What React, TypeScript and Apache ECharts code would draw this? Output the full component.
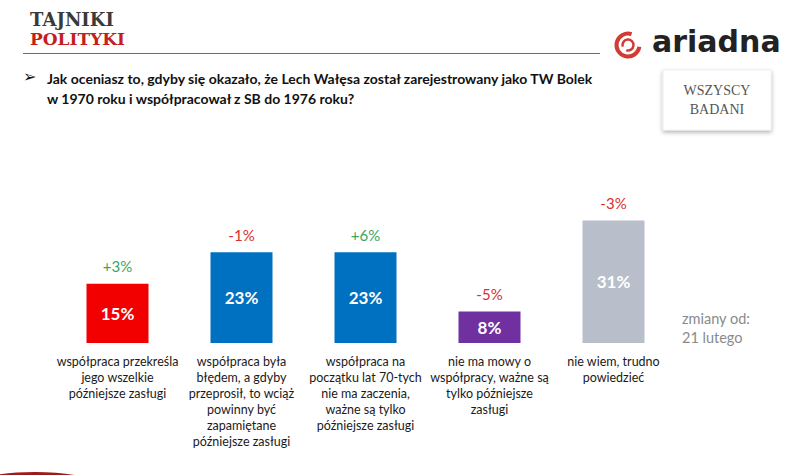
import React, { useEffect, useRef } from "react";
import * as echarts from "echarts";

const categories = [
  "współpraca przekreśla\njego wszelkie\npóźniejsze zasługi",
  "współpraca była\nbłędem, a gdyby\nprzeprosił, to wciąż\npowinny być\nzapamiętane\npóźniejsze zasługi",
  "współpraca na\npoczątku lat 70-tych\nnie ma zaczenia,\nważne są tylko\npóźniejsze zasługi",
  "nie ma mowy o\nwspółpracy, ważne są\ntylko późniejsze\nzasługi",
  "nie wiem, trudno\npowiedzieć",
];
const values = [15, 23, 23, 8, 31];
const changes = ["+3%", "-1%", "+6%", "-5%", "-3%"];
const barColors = ["#F20000", "#0070C0", "#0070C0", "#7030A0", "#B8BECA"];

const GREEN = "#3BA55C";
const RED = "#D6302F";

export default function App() {
  const ref = useRef<HTMLDivElement>(null);
  useEffect(() => {
    document.body.style.margin = "0";
    const chart = echarts.init(ref.current!, null, { renderer: "svg" });
    chart.setOption({
      animation: false,
      backgroundColor: "#ffffff",
      grid: { left: 55.5, right: 112.5, top: 185, bottom: 132 },
      xAxis: {
        type: "category",
        data: categories,
        axisLine: { show: false },
        axisTick: { show: false },
        axisLabel: {
          interval: 0,
          margin: 10,
          color: "#1a1a1a",
          fontFamily: "Lato",
          fontSize: 12.5,
          lineHeight: 16,
          verticalAlign: "top",
        },
      },
      yAxis: {
        type: "value",
        min: 0,
        max: 40,
        show: false,
        splitLine: { show: false },
      },
      series: [
        {
          type: "bar",
          barWidth: "50%",
          data: values.map((v, i) => ({ value: v, itemStyle: { color: barColors[i] } })),
          label: {
            show: true,
            position: "inside",
            formatter: "{c}%",
            color: "#ffffff",
            fontFamily: "Lato",
            fontWeight: "bold",
            fontSize: 17,
          },
        },
        {
          type: "bar",
          barWidth: "50%",
          barGap: "-100%",
          silent: true,
          itemStyle: { color: "rgba(0,0,0,0)" },
          data: values.map((v, i) => ({
            value: v,
            label: { color: changes[i].startsWith("+") ? GREEN : RED },
          })),
          label: {
            show: true,
            position: "top",
            distance: 10,
            formatter: (p: any) => changes[p.dataIndex],
            fontFamily: "Lato",
            fontSize: 15,
          },
        },
      ],
      graphic: [
        {
          type: "text",
          left: 30,
          top: 10,
          style: {
            text: "TAJNIKI",
            font: "bold 18px 'DejaVu Serif'",
            fill: "#3a3a3a",
          },
        },
        {
          type: "text",
          left: 30,
          top: 30,
          style: {
            text: "POLITYKI",
            font: "bold 17px 'DejaVu Serif'",
            fill: "#C41E1E",
          },
        },
        {
          type: "line",
          shape: { x1: 23, y1: 53.5, x2: 600, y2: 53.5 },
          style: { stroke: "#B45050", lineWidth: 1.2 },
        },
        // ariadna logo
        {
          type: "arc",
          shape: { cx: 628, cy: 45, r: 11.5, startAngle: Math.PI * 0.05, endAngle: Math.PI * 1.6 },
          style: { stroke: "#D23B33", lineWidth: 4, fill: "none" },
        },
        {
          type: "arc",
          shape: { cx: 628, cy: 45, r: 5.5, startAngle: Math.PI * 0.9, endAngle: Math.PI * 2.6 },
          style: { stroke: "#D23B33", lineWidth: 2.5, fill: "none" },
        },
        {
          type: "text",
          left: 652,
          top: 26,
          style: {
            text: "ariadna",
            font: "bold 30px 'DejaVu Sans'",
            fill: "#222222",
          },
        },
        // WSZYSCY BADANI box
        {
          type: "rect",
          shape: { x: 663, y: 70, width: 108, height: 60 },
          style: {
            fill: "#ffffff",
            stroke: "#eeeeee",
            lineWidth: 1,
            shadowBlur: 4,
            shadowOffsetY: 2,
            shadowColor: "rgba(0,0,0,0.3)",
          },
        },
        {
          type: "text",
          x: 717,
          y: 100,
          style: {
            text: "WSZYSCY\nBADANI",
            font: "14px 'Liberation Serif'",
            lineHeight: 19,
            fill: "#555555",
            align: "center",
            verticalAlign: "middle",
          },
        },
        // question
        {
          type: "text",
          left: 23,
          top: 68,
          style: {
            text: "➢",
            font: "16px 'DejaVu Sans'",
            fill: "#111111",
          },
        },
        {
          type: "text",
          left: 47,
          top: 68,
          style: {
            text:
              "Jak oceniasz to, gdyby się okazało, że Lech Wałęsa został zarejestrowany jako TW Bolek\nw 1970 roku i współpracował z SB do 1976 roku?",
            font: "bold 14px Lato",
            lineHeight: 20,
            fill: "#111111",
          },
        },
        {
          type: "text",
          left: 682,
          top: 309,
          style: {
            text: "zmiany od:\n21 lutego",
            font: "14.5px Lato",
            lineHeight: 19,
            fill: "#8a8a8a",
          },
        },
        {
          type: "ellipse",
          shape: { cx: 35, cy: 492, rx: 75, ry: 20 },
          style: { fill: "#9E1B1B" },
        },
      ],
    });
    return () => chart.dispose();
  }, []);
  return <div ref={ref} style={{ width: 788, height: 475, position: "absolute", left: 0, top: 0 }} />;
}
